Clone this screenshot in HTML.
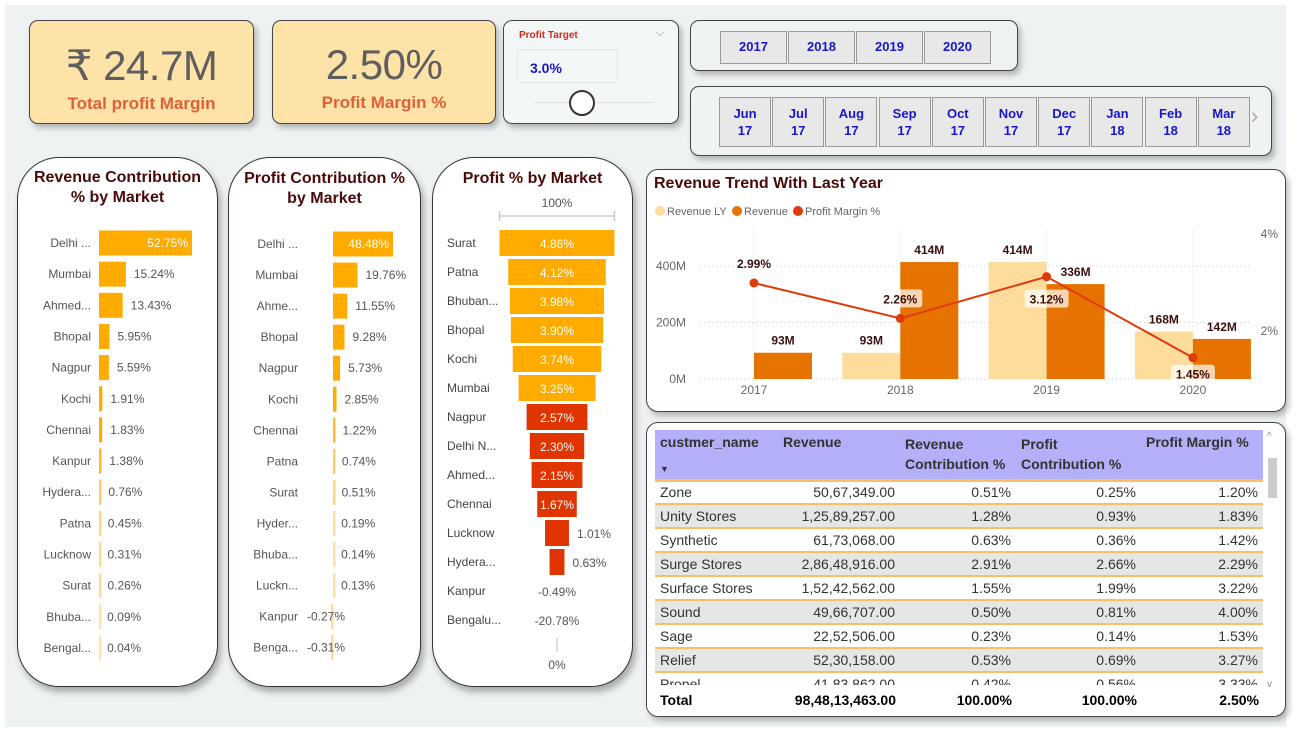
<!DOCTYPE html>
<html><head><meta charset="utf-8">
<style>
*{box-sizing:border-box;margin:0;padding:0}
body{width:1296px;height:737px;overflow:hidden;background:#fff;font-family:"Liberation Sans",sans-serif;position:relative}
.bg{position:absolute;left:5px;top:5px;width:1281px;height:722px;background:#eef2f3}
.card{position:absolute;border:1.5px solid #444;border-radius:9px;box-shadow:3px 4px 6px rgba(0,0,0,.25)}
.kpi{background:#fde3a8;text-align:center}
.kpi .v{font-size:42px;color:#5f5f5f;margin-top:20px;letter-spacing:-0.5px}
.kpi .l{font-size:17px;color:#e0603a;font-weight:bold;margin-top:4px}
.panel{position:absolute;background:#fff;border:1.5px solid #333;border-radius:42px;box-shadow:3px 5px 7px rgba(0,0,0,.3)}
.ptitle{position:absolute;left:0;right:0;text-align:center;font-weight:bold;color:#4a0a0a;font-size:16px;line-height:20px}
.btn{position:absolute;background:#e8e8e8;border:1.5px solid #9a9a9a;color:#1a16c8;font-weight:bold;font-size:13px;text-align:center}
table{border-collapse:collapse;font-size:14px;color:#333}
</style></head><body>
<div class="bg"></div>

<div class="card kpi" style="left:29px;top:20px;width:225px;height:104px">
 <div class="v">₹ 24.7M</div>
 <div class="l">Total profit Margin</div>
</div>
<div class="card kpi" style="left:272px;top:20px;width:224px;height:104px">
 <div class="v">2.50%</div>
 <div class="l">Profit Margin %</div>
</div>
<div class="card" style="left:503px;top:20px;width:176px;height:104px;background:#f4f7f8">
 <div style="position:absolute;left:15px;top:9px;font-size:10px;font-weight:bold;color:#d42a1a">Profit Target</div>
 <div style="position:absolute;right:14px;top:6px;font-size:11px;color:#888">⌵</div>
 <div style="position:absolute;left:13px;top:28px;width:101px;height:34px;border:1px solid #e6e9ea;color:#1a16c8;font-weight:bold;font-size:14px;padding:10px 0 0 12px">3.0%</div>
 <div style="position:absolute;left:30px;top:81px;width:120px;height:1px;background:#ddd"></div>
 <div style="position:absolute;left:65px;top:69px;width:26px;height:26px;border-radius:50%;border:2px solid #333;background:#fff"></div>
</div>

<div class="card" style="left:690px;top:20px;width:328px;height:51px;background:#f0f3f4">
 <div class="btn" style="left:29px;top:10px;width:67px;height:33px;line-height:30px">2017</div>
 <div class="btn" style="left:97px;top:10px;width:67px;height:33px;line-height:30px">2018</div>
 <div class="btn" style="left:165px;top:10px;width:67px;height:33px;line-height:30px">2019</div>
 <div class="btn" style="left:233px;top:10px;width:67px;height:33px;line-height:30px">2020</div>
</div>
<div class="card" id="months" style="left:690px;top:86px;width:582px;height:70px;background:#f0f3f4">
 <div style="position:absolute;left:560px;top:16px;font-size:22px;color:#aaa">›</div>
</div>

<div class="panel" style="left:17px;top:157px;width:201px;height:530px">
 <div class="ptitle" style="top:10px">Revenue Contribution<br>% by Market</div>
</div>
<div class="panel" style="left:228px;top:157px;width:193px;height:530px">
 <div class="ptitle" style="top:11px">Profit Contribution %<br>by Market</div>
</div>
<div class="panel" style="left:432px;top:157px;width:201px;height:530px">
 <div class="ptitle" style="top:11px">Profit % by Market</div>
</div>

<div class="card" style="left:646px;top:169px;width:640px;height:243px;background:#fff;border-radius:12px">
 <div style="position:absolute;left:7px;top:5px;font-size:16px;font-weight:bold;color:#4a0a0a">Revenue Trend With Last Year</div>
</div>
<svg id="main" width="1296" height="737" style="position:absolute;left:0;top:0;pointer-events:none" font-family="Liberation Sans, sans-serif"></svg>

<div class="card" style="left:646px;top:422px;width:640px;height:295px;background:#fff;border-radius:12px;overflow:hidden">
 <table style="position:absolute;left:8px;top:7px;width:608px">
  <thead><tr style="background:#b3aff8;font-weight:bold;vertical-align:top;height:50px;border-bottom:3px solid #f8c060">
   <th style="text-align:left;padding:4px 5px;width:123px;font-size:14px;position:relative">custmer_name<span style="position:absolute;left:5px;top:34px;font-size:9px">▼</span></th>
   <th style="text-align:left;padding:4px 5px;width:122px">Revenue</th>
   <th style="text-align:left;padding:4px 5px;width:116px;line-height:20px">Revenue Contribution %</th>
   <th style="text-align:left;padding:4px 5px;width:125px;line-height:20px">Profit Contribution %</th>
   <th style="text-align:left;padding:4px 5px;width:122px">Profit Margin %</th>
  </tr></thead>
  <tbody id="tb"></tbody>
 </table>
 <div style="position:absolute;left:0;top:262px;width:630px;height:33px;background:#fff">
  <div style="position:absolute;left:13px;top:7px;font-weight:bold;font-size:14px">Total</div>
  <div style="position:absolute;right:381px;top:7px;font-weight:bold;font-size:14px">98,48,13,463.00</div>
  <div style="position:absolute;right:265px;top:7px;font-weight:bold;font-size:14px">100.00%</div>
  <div style="position:absolute;right:140px;top:7px;font-weight:bold;font-size:14px">100.00%</div>
  <div style="position:absolute;right:18px;top:7px;font-weight:bold;font-size:14px">2.50%</div>
 </div>
 <div style="position:absolute;left:621px;top:35px;width:9px;height:40px;background:#ccc"></div>
 <div style="position:absolute;left:620px;top:8px;font-size:10px;color:#888">^</div>
 <div style="position:absolute;left:620px;top:256px;font-size:10px;color:#888">v</div>
</div>

<script>
// ---- data ----
const months = ["Jun","Jul","Aug","Sep","Oct","Nov","Dec","Jan","Feb","Mar"];
const monthYears = ["17","17","17","17","17","17","17","18","18","18"];

const revMarkets = ["Delhi ...","Mumbai","Ahmed...","Bhopal","Nagpur","Kochi","Chennai","Kanpur","Hydera...","Patna","Lucknow","Surat","Bhuba...","Bengal..."];
const revContrib = [52.75,15.24,13.43,5.95,5.59,1.91,1.83,1.38,0.76,0.45,0.31,0.26,0.09,0.04];

const profMarkets = ["Delhi ...","Mumbai","Ahme...","Bhopal","Nagpur","Kochi","Chennai","Patna","Surat","Hyder...","Bhuba...","Luckn...","Kanpur","Benga..."];
const profContrib = [48.48,19.76,11.55,9.28,5.73,2.85,1.22,0.74,0.51,0.19,0.14,0.13,-0.27,-0.31];

const funnelMarkets = ["Surat","Patna","Bhuban...","Bhopal","Kochi","Mumbai","Nagpur","Delhi N...","Ahmed...","Chennai","Lucknow","Hydera...","Kanpur","Bengalu..."];
const funnelValues = [4.86,4.12,3.98,3.90,3.74,3.25,2.57,2.30,2.15,1.67,1.01,0.63,-0.49,-20.78];

const years = ["2017","2018","2019","2020"];
const revenueLY = [0,93,414,168];
const revenue = [93,414,336,142];
const marginPct = [2.99,2.26,3.12,1.45];
const revTicks = [0,200,400];
const pctTicks = [2,4];

const custNames = ["Zone","Unity Stores","Synthetic","Surge Stores","Surface Stores","Sound","Sage","Relief","Propel"];
const custRevenue = ["50,67,349.00","1,25,89,257.00","61,73,068.00","2,86,48,916.00","1,52,42,562.00","49,66,707.00","22,52,506.00","52,30,158.00","41,83,862.00"];
const custRevContrib = ["0.51%","1.28%","0.63%","2.91%","1.55%","0.50%","0.23%","0.53%","0.42%"];
const custProfContrib = ["0.25%","0.93%","0.36%","2.66%","1.99%","0.81%","0.14%","0.69%","0.56%"];
const custMargin = ["1.20%","1.83%","1.42%","2.29%","3.22%","4.00%","1.53%","3.27%","3.33%"];

// ---- month buttons ----
const mc = document.getElementById('months');
months.forEach((m,i)=>{
  const b=document.createElement('div');
  b.className='btn';
  b.style.cssText=`left:${28+i*53.2}px;top:10px;width:52px;height:50px;line-height:17px;padding-top:7px`;
  b.innerHTML=m+'<br>'+monthYears[i];
  
  
  mc.appendChild(b);
});

const NS='http://www.w3.org/2000/svg';
const svg=document.getElementById('main');
function mk(tag,attrs,parent){const e=document.createElementNS(NS,tag);for(const k in attrs)e.setAttribute(k,attrs[k]);(parent||svg).appendChild(e);return e;}
function txt(x,y,s,attrs){const t=mk('text',Object.assign({x:x,y:y},attrs));t.textContent=s;return t;}

// ---- revenue contribution ----
{
  const x0=99, sc=93/52.75, y0=243, dy=31.15, h=25;
  const xs=v=>x0+v*sc;
  revMarkets.forEach((m,i)=>{
    const cy=y0+i*dy, v=revContrib[i];
    const l=txt(91,cy+4,m,{'font-size':12,fill:'#555','text-anchor':'end'});
    
    
    const w=Math.max(xs(v)-x0,2.5);
    const r=mk('rect',{x:x0,y:cy-h/2,width:w,height:h,fill:'#ffab00','fill-opacity':Math.min(1,0.3+v/2.5)});
    
    
    const inside=w>60;
    const vl=txt(inside?xs(v)-4:xs(v)+8,cy+4,v.toFixed(2)+'%',{'font-size':12,fill:inside?'#fff':'#555','text-anchor':inside?'end':'start'});
    
    
  });
}
// ---- profit contribution ----
{
  const x0=333, sc=60/48.48, y0=244, dy=31.05, h=25;
  const xs=v=>x0+v*sc;
  profMarkets.forEach((m,i)=>{
    const cy=y0+i*dy, v=profContrib[i];
    const l=txt(298,cy+4,m,{'font-size':12,fill:'#555','text-anchor':'end'});
    
    
    const x1=Math.min(x0,xs(v)), w=Math.max(Math.abs(xs(v)-x0),2.5);
    const r=mk('rect',{x:v<0?x0-2:x1,y:cy-h/2,width:w,height:h,fill:'#ffab00','fill-opacity':Math.min(1,0.3+Math.abs(v)/2.5)});
    
    
    const inside=w>50;
    const lx=v<0?x0-26:(inside?xs(v)-4:xs(v)+8);
    const vl=txt(lx,cy+4,v.toFixed(2)+'%',{'font-size':12,fill:inside?'#fff':'#555','text-anchor':inside?'end':'start'});
    
    
  });
}
// ---- funnel ----
{
  const cx=557, sc=115/4.86, y0=243, dy=29, h=26;
  const half=v=>Math.max(v,0)*sc/2;
  const t1=txt(cx,207,'100%',{'font-size':12,fill:'#555','text-anchor':'middle'});
  
  
  const br=mk('path',{d:`M${cx-half(funnelValues[0])} 211 V221 M${cx-half(funnelValues[0])} 216 H${cx+half(funnelValues[0])} M${cx+half(funnelValues[0])} 211 V221`,stroke:'#ccc','stroke-width':1.5,fill:'none'});
  
  
  funnelMarkets.forEach((m,i)=>{
    const cy=y0+i*dy, v=funnelValues[i];
    const l=txt(447,cy+4,m,{'font-size':12,fill:'#444'});
    
    
    const hw=half(v);
    if(hw>0){
      const r=mk('rect',{x:cx-hw,y:cy-h/2,width:hw*2,height:h,fill:v>=3?'#ffab00':'#e03500'});
      
      
    }
    const inside=hw*2>34;
    const vl=txt(inside||hw==0?cx:cx+hw+8,cy+5,v.toFixed(2)+'%',{'font-size':12,fill:inside?'#fff':'#555','text-anchor':inside||hw==0?'middle':'start'});
    
    
  });
  mk('line',{x1:cx,y1:638,x2:cx,y2:652,stroke:'#bbb'});
  const t2=txt(cx,669,'0%',{'font-size':12,fill:'#555','text-anchor':'middle'});
  
  
}
// ---- combo chart ----
{
  const yb=379, ys=v=>yb-v*(113/400), yp=p=>428-p*48.5;
  const xc=i=>754+i*146.3, bw=58;
  const leg=[['Revenue LY','#fddc9c',660],['Revenue','#e67300',737],['Profit Margin %','#e03a0a',798]];
  leg.forEach(l=>{
    const c=mk('circle',{cx:l[2],cy:211,r:5,fill:l[1]});
    
    
    const t=txt(l[2]+7,215,l[0],{'font-size':11,fill:'#666'});
    
    
  });
  revTicks.forEach(v=>{
    mk('line',{x1:700,x2:1250,y1:ys(v),y2:ys(v),stroke:'#ccc','stroke-dasharray':'1 3'});
    const t=txt(686,ys(v)+4,v+'M',{'font-size':12,fill:'#666','text-anchor':'end'});
    
    
  });
  pctTicks.forEach(p=>{
    const t=txt(1278,yp(p)+4,p+'%',{'font-size':12,fill:'#666','text-anchor':'end'});
    
    
  });
  years.forEach((y,i)=>{
    mk('line',{x1:xc(i),x2:xc(i),y1:230,y2:379,stroke:'#ddd','stroke-dasharray':'1 3'});
    if(revenueLY[i]>0){
      const r=mk('rect',{x:xc(i)-bw,y:ys(revenueLY[i]),width:bw,height:yb-ys(revenueLY[i]),fill:'#fddc9c'});
      
      
      const t=txt(xc(i)-bw/2,ys(revenueLY[i])-8,revenueLY[i]+'M',{'font-size':12,'font-weight':'bold',fill:'#3a1010','text-anchor':'middle'});
      
      
    }
    const r2=mk('rect',{x:xc(i),y:ys(revenue[i]),width:bw,height:yb-ys(revenue[i]),fill:'#e67300'});
    
    
    const t2=txt(xc(i)+bw/2,ys(revenue[i])-8,revenue[i]+'M',{'font-size':12,'font-weight':'bold',fill:'#3a1010','text-anchor':'middle'});
    
    
    const xl=txt(xc(i),394,y,{'font-size':12,fill:'#666','text-anchor':'middle'});
    
    
  });
  const pl=mk('polyline',{points:marginPct.map((p,i)=>xc(i)+','+yp(p)).join(' '),fill:'none',stroke:'#e03a0a','stroke-width':2});
  
  
  const off=[[0,-16],[0,-16],[0,26],[0,20]];
  marginPct.forEach((p,i)=>{
    const c=mk('circle',{cx:xc(i),cy:yp(p),r:4.5,fill:'#e03a0a'});
    
    
    const lx=xc(i)+off[i][0], ly=yp(p)+off[i][1];
    if(i>0) mk('rect',{x:lx-22,y:ly-13,width:44,height:18,rx:3,fill:'#fff','fill-opacity':0.7});
    const t=txt(lx,ly+1,p.toFixed(2)+'%',{'font-size':12,'font-weight':'bold',fill:'#3a1010','text-anchor':'middle'});
    
    
  });
}
// ---- table ----
{
  const tb=document.getElementById('tb');
  custNames.forEach((n,i)=>{
    const tr=document.createElement('tr');
    tr.style.cssText=`height:24px;background:${i%2?'#e6e6e6':'#fff'};border-bottom:2px solid #f8c060`;
    
    
    [n,custRevenue[i],custRevContrib[i],custProfContrib[i],custMargin[i]].forEach((v,j)=>{
      const td=document.createElement('td');
      td.textContent=v;
      td.style.cssText=`padding:0 5px;text-align:${j?'right':'left'};line-height:21px`;
      tr.appendChild(td);
    });
    tb.appendChild(tr);
  });
}
</script>
</body></html>
